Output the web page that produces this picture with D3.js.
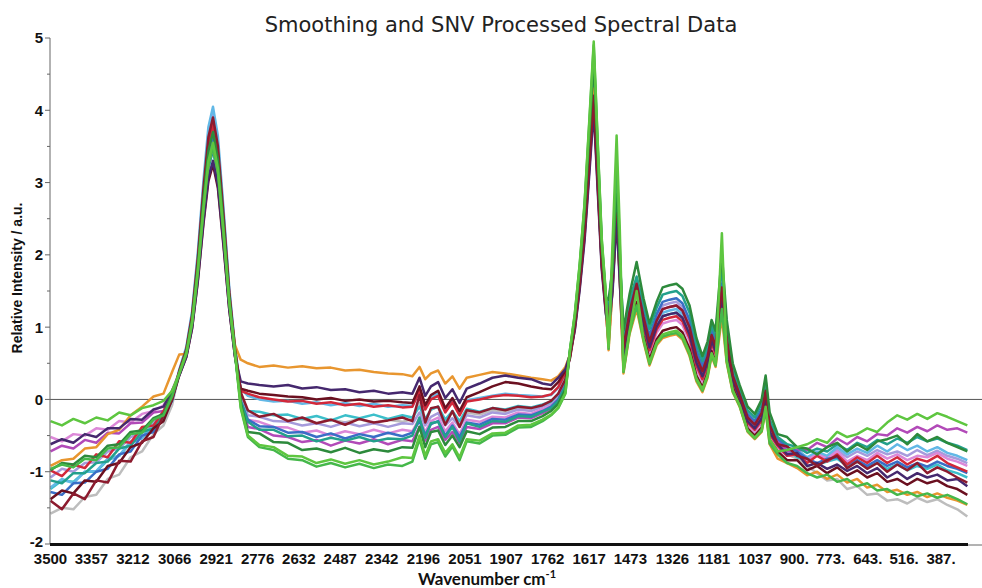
<!DOCTYPE html>
<html>
<head>
<meta charset="utf-8">
<script src="https://cdn.jsdelivr.net/npm/d3@7"></script>
<style>
  html, body { margin: 0; padding: 0; background: #fff; }
  #chart { width: 982px; height: 588px; }
</style>
</head>
<body>
<div id="chart"></div>
<script>
// =========================================================
//  Smoothing + SNV processed spectra (16 samples)
// =========================================================

// shared x grid, cm-1 (descending)
const wavenumbers = [
  3500, 3460, 3420, 3380, 3340, 3300, 3260, 3220, 3180, 3140, 3105, 3075,
  3050, 3025, 3005, 2985, 2965, 2948, 2932, 2915, 2895, 2875, 2855, 2835,
  2810, 2770, 2720, 2670, 2620, 2570, 2520, 2470, 2420, 2370, 2320, 2270, 2235, 2210,
  2190, 2170, 2145, 2120, 2095, 2070, 2045, 2000, 1955, 1910, 1865, 1820, 1780, 1750,
  1725, 1700, 1684, 1667, 1650, 1633, 1615, 1601, 1587, 1573, 1559, 1549, 1535, 1521,
  1510, 1497, 1476, 1451, 1427, 1406, 1381, 1360, 1336, 1312, 1291, 1266, 1242, 1221,
  1203, 1189, 1175, 1153, 1136, 1115, 1091, 1063, 1038,
  1014, 1000, 986, 958, 925, 890, 855, 820, 785, 750, 715, 680, 645, 610, 575, 540,
  505, 470, 435, 400, 365, 330, 295
];

const tickValues = [3500, 3357, 3212, 3066, 2921, 2776, 2632, 2487, 2342, 2196, 2051, 1907,
  1762, 1617, 1473, 1326, 1181, 1037, 900, 773, 643, 516, 387];
const tickLabels = ['3500', '3357', '3212', '3066', '2921', '2776', '2632', '2487', '2342', '2196',
  '2051', '1907', '1762', '1617', '1473', '1326', '1181', '1037', '900.', '773.', '643.', '516.', '387.'];
const yTicks = [-2, -1, 0, 1, 2, 3, 4, 5];

// spectra (relative intensity, a.u.)
const gray = [
  -1.58, -1.50, -1.52, -1.35, -1.32, -1.10, -1.04, -0.80, -0.72, -0.48, -0.36, -0.08,
  0.37, 0.67, 1.11, 1.85, 2.78, 3.44, 3.70, 3.33, 2.41, 1.41, 0.67, 0.02,
  -0.16, -0.24, -0.21, -0.29, -0.27, -0.33, -0.28, -0.32, -0.27, -0.33, -0.28, -0.31, -0.27, -0.05,
  -0.31, -0.14, -0.10, -0.34, -0.17, -0.36, -0.18, -0.21, -0.15, -0.17, -0.12, -0.13, -0.09, -0.04,
  0.06, 0.26, 0.62, 1.06, 1.67, 2.42, 3.52, 4.40, 3.17, 1.98, 1.32, 0.98, 1.68, 2.80,
  1.82, 0.62, 1.14, 1.45, 1.06, 0.72, 1.01, 1.15, 1.18, 1.20, 1.13, 0.90, 0.51, 0.32,
  0.52, 0.82, 0.67, 1.50, 0.76, 0.27, 0.03, -0.30, -0.40,
  -0.26, 0.06, -0.45, -0.62, -0.76, -0.82, -0.92, -1.02, -1.12, -1.10, -1.24, -1.20, -1.32, -1.30, -1.40, -1.38,
  -1.44, -1.36, -1.42, -1.38, -1.46, -1.52, -1.62
];
const lavender = [
  -1.08, -0.96, -1.00, -0.88, -0.87, -0.72, -0.68, -0.52, -0.47, -0.30, -0.24, 0.02,
  0.40, 0.71, 1.19, 1.98, 2.96, 3.67, 3.95, 3.56, 2.57, 1.50, 0.71, 0.05,
  -0.22, -0.24, -0.30, -0.31, -0.36, -0.33, -0.38, -0.32, -0.37, -0.33, -0.38, -0.33, -0.34, -0.18,
  -0.36, -0.24, -0.19, -0.36, -0.26, -0.38, -0.22, -0.25, -0.18, -0.20, -0.14, -0.16, -0.10, -0.06,
  0.04, 0.24, 0.65, 1.12, 1.77, 2.56, 3.72, 4.65, 3.35, 2.09, 1.40, 1.13, 1.80, 3.00,
  1.95, 0.74, 1.25, 1.60, 1.18, 0.84, 1.13, 1.30, 1.33, 1.35, 1.28, 1.05, 0.63, 0.42,
  0.62, 0.92, 0.77, 1.70, 0.88, 0.36, 0.09, -0.23, -0.33,
  -0.16, 0.16, -0.36, -0.56, -0.70, -0.68, -0.82, -0.74, -0.80, -0.70, -0.80, -0.72, -0.78, -0.70, -0.76, -0.72,
  -0.78, -0.70, -0.77, -0.71, -0.78, -0.82, -0.88
];
const cyan = [
  -1.24, -1.12, -1.14, -1.00, -1.00, -0.84, -0.78, -0.60, -0.52, -0.36, -0.26, 0.00,
  0.35, 0.62, 1.04, 1.73, 2.59, 3.21, 3.45, 3.11, 2.24, 1.31, 0.62, 0.00,
  -0.16, -0.17, -0.22, -0.21, -0.27, -0.23, -0.29, -0.22, -0.26, -0.21, -0.27, -0.22, -0.25, -0.10,
  -0.27, -0.14, -0.10, -0.28, -0.16, -0.30, -0.13, -0.17, -0.12, -0.14, -0.09, -0.11, -0.07, -0.03,
  0.07, 0.27, 0.63, 1.08, 1.71, 2.48, 3.60, 4.50, 3.24, 2.03, 1.35, 0.98, 1.68, 2.80,
  1.82, 0.62, 1.14, 1.50, 1.06, 0.72, 1.01, 1.15, 1.18, 1.20, 1.13, 0.90, 0.51, 0.32,
  0.52, 0.82, 0.67, 1.50, 0.76, 0.27, 0.03, -0.30, -0.40,
  -0.26, 0.06, -0.41, -0.67, -0.70, -0.80, -0.84, -0.90, -0.86, -0.82, -0.92, -0.86, -0.94, -0.88, -0.96, -0.90,
  -0.98, -0.92, -0.96, -0.90, -0.98, -1.02, -1.08
];
const lightBlue = [
  -1.22, -1.10, -1.16, -1.00, -0.99, -0.82, -0.78, -0.58, -0.54, -0.34, -0.27, 0.00,
  0.41, 0.73, 1.22, 2.03, 3.04, 3.77, 4.05, 3.65, 2.63, 1.54, 0.73, 0.15,
  0.05, 0.00, -0.03, -0.02, -0.06, -0.04, -0.08, -0.05, -0.09, -0.06, -0.10, -0.08, -0.09, 0.12,
  -0.12, 0.02, 0.08, -0.16, -0.02, -0.20, -0.01, 0.02, 0.05, 0.08, 0.06, 0.05, 0.04, 0.06,
  0.16, 0.36, 0.62, 1.06, 1.67, 2.42, 3.52, 4.40, 3.17, 1.98, 1.32, 1.03, 1.92, 3.20,
  2.08, 0.66, 1.18, 1.50, 1.10, 0.76, 1.05, 1.20, 1.23, 1.25, 1.18, 0.95, 0.55, 0.35,
  0.55, 0.85, 0.70, 1.50, 0.80, 0.30, 0.05, -0.28, -0.38,
  -0.22, 0.09, -0.42, -0.60, -0.74, -0.70, -0.80, -0.72, -0.78, -0.66, -0.76, -0.68, -0.74, -0.64, -0.72, -0.62,
  -0.70, -0.64, -0.72, -0.66, -0.74, -0.78, -0.84
];
const pink = [
  -0.52, -0.58, -0.48, -0.50, -0.40, -0.42, -0.30, -0.32, -0.20, -0.16, -0.08, 0.12,
  0.38, 0.68, 1.13, 1.88, 2.81, 3.49, 3.75, 3.38, 2.44, 1.43, 0.68, 0.00,
  -0.28, -0.31, -0.38, -0.39, -0.46, -0.43, -0.50, -0.44, -0.48, -0.42, -0.47, -0.42, -0.44, -0.26,
  -0.45, -0.30, -0.25, -0.44, -0.32, -0.48, -0.28, -0.31, -0.24, -0.25, -0.18, -0.20, -0.13, -0.09,
  0.01, 0.21, 0.63, 1.08, 1.71, 2.48, 3.60, 4.50, 3.24, 2.03, 1.35, 0.88, 1.68, 2.80,
  1.82, 0.53, 1.06, 1.55, 0.97, 0.64, 0.92, 1.05, 1.08, 1.10, 1.03, 0.80, 0.42, 0.25,
  0.45, 0.75, 0.60, 1.45, 0.67, 0.22, -0.01, -0.35, -0.45,
  -0.32, -0.01, -0.50, -0.68, -0.78, -0.76, -0.84, -0.76, -0.82, -0.72, -0.86, -0.78, -0.84, -0.74, -0.82, -0.76,
  -0.84, -0.78, -0.80, -0.74, -0.82, -0.86, -0.92
];
const magenta = [
  -0.72, -0.64, -0.68, -0.56, -0.60, -0.46, -0.47, -0.33, -0.32, -0.18, -0.16, 0.08,
  0.36, 0.65, 1.08, 1.80, 2.70, 3.35, 3.60, 3.24, 2.34, 1.37, 0.65, -0.04,
  -0.38, -0.41, -0.50, -0.52, -0.59, -0.56, -0.64, -0.57, -0.61, -0.55, -0.62, -0.56, -0.58, -0.38,
  -0.57, -0.42, -0.38, -0.56, -0.45, -0.60, -0.38, -0.41, -0.33, -0.33, -0.25, -0.26, -0.19, -0.13,
  -0.03, 0.17, 0.63, 1.08, 1.71, 2.48, 3.60, 4.50, 3.24, 2.03, 1.35, 1.08, 1.68, 2.80,
  1.82, 0.70, 1.21, 1.60, 1.14, 0.80, 1.09, 1.25, 1.28, 1.30, 1.23, 1.00, 0.59, 0.39,
  0.59, 0.89, 0.74, 1.60, 0.84, 0.33, 0.07, -0.25, -0.35,
  -0.19, 0.12, -0.39, -0.58, -0.72, -0.70, -0.70, -0.60, -0.66, -0.54, -0.62, -0.52, -0.58, -0.48, -0.50, -0.40,
  -0.46, -0.38, -0.44, -0.36, -0.42, -0.40, -0.46
];
const blue = [
  -1.28, -1.32, -1.16, -1.15, -1.00, -0.96, -0.76, -0.72, -0.50, -0.45, -0.22, -0.02,
  0.36, 0.65, 1.08, 1.80, 2.70, 3.35, 3.60, 3.24, 2.34, 1.37, 0.65, -0.02,
  -0.28, -0.37, -0.38, -0.46, -0.45, -0.52, -0.47, -0.54, -0.48, -0.52, -0.46, -0.51, -0.46, -0.30,
  -0.49, -0.34, -0.30, -0.50, -0.36, -0.52, -0.32, -0.35, -0.27, -0.28, -0.21, -0.22, -0.16, -0.10,
  0.00, 0.20, 0.64, 1.10, 1.75, 2.53, 3.68, 4.60, 3.31, 2.07, 1.38, 1.18, 1.74, 2.90,
  1.89, 0.79, 1.29, 1.60, 1.23, 0.88, 1.18, 1.35, 1.38, 1.40, 1.33, 1.10, 0.68, 0.46,
  0.66, 0.96, 0.81, 1.60, 0.93, 0.38, 0.11, -0.20, -0.30,
  -0.13, 0.19, -0.34, -0.54, -0.66, -0.72, -0.82, -0.88, -0.82, -0.80, -0.90, -0.84, -0.92, -0.84, -0.92, -0.86,
  -0.94, -0.88, -0.93, -0.86, -0.92, -0.96, -1.02
];
const teal = [
  -1.12, -1.16, -1.02, -1.02, -0.88, -0.86, -0.68, -0.64, -0.45, -0.40, -0.20, 0.03,
  0.35, 0.62, 1.04, 1.73, 2.59, 3.21, 3.45, 3.11, 2.24, 1.31, 0.62, -0.02,
  -0.31, -0.42, -0.42, -0.51, -0.50, -0.58, -0.53, -0.57, -0.52, -0.58, -0.54, -0.55, -0.50, -0.25,
  -0.53, -0.33, -0.31, -0.52, -0.38, -0.58, -0.33, -0.38, -0.30, -0.31, -0.23, -0.24, -0.17, -0.12,
  -0.02, 0.18, 0.67, 1.15, 1.82, 2.64, 3.84, 4.80, 3.46, 2.16, 1.44, 1.28, 1.86, 3.10,
  2.02, 0.88, 1.37, 1.70, 1.32, 0.97, 1.27, 1.45, 1.48, 1.50, 1.43, 1.20, 0.77, 0.53,
  0.73, 1.03, 0.88, 1.85, 1.02, 0.44, 0.16, -0.15, -0.25,
  -0.06, 0.26, -0.28, -0.52, -0.62, -0.66, -0.74, -0.68, -0.72, -0.62, -0.70, -0.60, -0.66, -0.56, -0.62, -0.54,
  -0.60, -0.52, -0.58, -0.54, -0.60, -0.64, -0.70
];
const red = [
  -0.98, -1.06, -0.90, -0.95, -0.76, -0.80, -0.58, -0.60, -0.38, -0.36, -0.16, 0.05,
  0.38, 0.68, 1.14, 1.90, 2.85, 3.53, 3.80, 3.42, 2.47, 1.44, 0.68, 0.12,
  0.08, 0.03, 0.00, -0.03, -0.02, -0.06, -0.04, -0.08, -0.06, -0.10, -0.08, -0.11, -0.10, 0.12,
  -0.14, 0.00, 0.05, -0.18, -0.04, -0.22, -0.03, 0.00, 0.04, 0.06, 0.05, 0.03, 0.04, 0.07,
  0.17, 0.37, 0.60, 1.03, 1.63, 2.37, 3.44, 4.30, 3.10, 1.94, 1.29, 0.93, 1.62, 2.70,
  1.76, 0.58, 1.10, 1.50, 1.02, 0.68, 0.97, 1.10, 1.13, 1.15, 1.08, 0.85, 0.47, 0.28,
  0.48, 0.78, 0.63, 1.40, 0.72, 0.24, 0.01, -0.32, -0.42,
  -0.29, 0.02, -0.48, -0.64, -0.78, -0.76, -0.88, -0.78, -0.86, -0.76, -0.90, -0.80, -0.88, -0.78, -0.88, -0.80,
  -0.90, -0.82, -0.86, -0.78, -0.88, -0.94, -1.00
];
const wine = [
  -1.38, -1.26, -1.30, -1.12, -1.14, -0.92, -0.88, -0.66, -0.60, -0.40, -0.30, 0.00,
  0.33, 0.59, 0.98, 1.63, 2.44, 3.02, 3.25, 2.93, 2.11, 1.24, 0.59, 0.15,
  0.12, 0.08, 0.06, 0.04, 0.03, 0.00, 0.02, -0.02, 0.00, -0.03, -0.02, -0.04, -0.05, 0.18,
  -0.08, 0.06, 0.12, -0.12, 0.02, -0.16, 0.03, 0.10, 0.18, 0.24, 0.22, 0.18, 0.15, 0.14,
  0.24, 0.40, 0.57, 0.98, 1.56, 2.26, 3.28, 4.10, 2.95, 1.85, 1.23, 0.78, 1.56, 2.60,
  1.69, 0.44, 0.98, 1.35, 0.88, 0.55, 0.83, 0.95, 0.98, 1.00, 0.93, 0.70, 0.33, 0.17,
  0.37, 0.67, 0.52, 1.30, 0.58, 0.16, -0.06, -0.40, -0.50,
  -0.39, -0.08, -0.56, -0.72, -0.84, -0.84, -0.98, -0.92, -1.02, -0.94, -1.05, -0.98, -1.08, -1.02, -1.14, -1.10,
  -1.18, -1.10, -1.16, -1.12, -1.20, -1.24, -1.32
];
const orange = [
  -0.92, -0.84, -0.82, -0.68, -0.66, -0.48, -0.42, -0.22, -0.10, 0.04, 0.08, 0.38,
  0.62, 0.63, 1.05, 1.75, 2.63, 3.26, 3.50, 3.15, 2.28, 1.33, 0.75, 0.55,
  0.50, 0.45, 0.47, 0.44, 0.46, 0.43, 0.44, 0.40, 0.41, 0.38, 0.36, 0.35, 0.32, 0.45,
  0.28, 0.36, 0.40, 0.22, 0.32, 0.15, 0.30, 0.34, 0.38, 0.36, 0.33, 0.30, 0.28, 0.26,
  0.32, 0.45, 0.62, 1.03, 1.63, 2.37, 3.44, 4.30, 3.10, 1.94, 1.29, 0.68, 1.56, 2.60,
  1.69, 0.36, 0.90, 1.25, 0.80, 0.47, 0.75, 0.85, 0.88, 0.90, 0.83, 0.60, 0.25, 0.10,
  0.30, 0.60, 0.45, 1.15, 0.50, 0.10, -0.10, -0.45, -0.55,
  -0.45, -0.15, -0.62, -0.82, -0.88, -0.95, -1.05, -1.00, -1.10, -1.04, -1.15, -1.10, -1.22, -1.18, -1.28, -1.25,
  -1.32, -1.28, -1.35, -1.30, -1.36, -1.40, -1.46
];
const darkPurple = [
  -0.62, -0.55, -0.60, -0.48, -0.52, -0.40, -0.40, -0.27, -0.28, -0.14, -0.10, 0.12,
  0.33, 0.59, 0.99, 1.65, 2.48, 3.07, 3.30, 2.97, 2.15, 1.25, 0.59, 0.25,
  0.22, 0.20, 0.18, 0.20, 0.15, 0.17, 0.13, 0.14, 0.10, 0.12, 0.08, 0.10, 0.08, 0.30,
  0.05, 0.18, 0.24, 0.02, 0.14, -0.05, 0.15, 0.22, 0.30, 0.33, 0.30, 0.28, 0.22, 0.20,
  0.30, 0.42, 0.62, 0.96, 1.52, 2.20, 3.20, 4.00, 2.88, 1.80, 1.20, 0.98, 1.50, 2.50,
  1.63, 0.62, 1.14, 1.50, 1.06, 0.72, 1.01, 1.15, 1.18, 1.20, 1.13, 0.90, 0.51, 0.32,
  0.52, 0.82, 0.67, 1.40, 0.76, 0.27, 0.03, -0.30, -0.40,
  -0.26, 0.06, -0.45, -0.62, -0.76, -0.74, -0.92, -0.88, -0.96, -0.90, -0.99, -0.92, -1.02, -0.95, -1.08, -1.00,
  -1.10, -1.02, -1.08, -1.04, -1.12, -1.10, -1.20
];
const maroon = [
  -1.40, -1.52, -1.30, -1.38, -1.12, -1.15, -0.85, -0.86, -0.58, -0.52, -0.22, 0.00,
  0.39, 0.70, 1.17, 1.95, 2.93, 3.63, 3.90, 3.51, 2.54, 1.48, 0.70, 0.10,
  -0.15, -0.24, -0.20, -0.30, -0.25, -0.33, -0.28, -0.35, -0.27, -0.32, -0.29, -0.25, -0.30, 0.06,
  -0.32, -0.12, -0.10, -0.35, -0.16, -0.38, -0.15, -0.18, -0.12, -0.15, -0.10, -0.12, -0.08, -0.02,
  0.08, 0.28, 0.59, 1.01, 1.60, 2.31, 3.36, 4.20, 3.02, 1.89, 1.26, 1.08, 1.74, 2.90,
  1.89, 0.70, 1.21, 1.60, 1.14, 0.80, 1.09, 1.25, 1.28, 1.30, 1.23, 1.00, 0.59, 0.39,
  0.59, 0.89, 0.74, 1.55, 0.84, 0.33, 0.07, -0.25, -0.35,
  -0.19, 0.12, -0.35, -0.62, -0.65, -0.78, -0.82, -0.92, -0.84, -0.78, -0.95, -0.86, -0.96, -0.88, -1.00, -0.90,
  -0.98, -0.88, -1.02, -0.94, -1.00, -1.08, -1.15
];
const darkGreen = [
  -0.98, -0.88, -0.90, -0.78, -0.80, -0.64, -0.62, -0.45, -0.43, -0.26, -0.20, 0.08,
  0.37, 0.67, 1.11, 1.85, 2.78, 3.44, 3.70, 3.33, 2.41, 1.41, 0.67, -0.05,
  -0.45, -0.47, -0.59, -0.60, -0.70, -0.68, -0.73, -0.67, -0.74, -0.69, -0.72, -0.66, -0.67, -0.38,
  -0.66, -0.45, -0.43, -0.63, -0.50, -0.66, -0.44, -0.48, -0.39, -0.38, -0.30, -0.30, -0.23, -0.16,
  -0.06, 0.14, 0.66, 1.13, 1.79, 2.59, 3.76, 4.70, 3.38, 2.12, 1.41, 1.38, 1.80, 3.00,
  1.95, 0.96, 1.45, 1.90, 1.40, 1.05, 1.35, 1.55, 1.58, 1.60, 1.53, 1.30, 0.85, 0.60,
  0.80, 1.10, 0.95, 2.00, 1.10, 0.50, 0.20, -0.10, -0.20,
  0.00, 0.33, -0.18, -0.48, -0.52, -0.66, -0.68, -0.76, -0.66, -0.60, -0.72, -0.62, -0.70, -0.58, -0.55, -0.50,
  -0.62, -0.48, -0.58, -0.52, -0.60, -0.66, -0.72
];
const green2 = [
  -0.96, -0.90, -0.94, -0.82, -0.84, -0.68, -0.66, -0.48, -0.46, -0.28, -0.22, 0.04,
  0.35, 0.63, 1.05, 1.75, 2.63, 3.26, 3.50, 3.15, 2.28, 1.33, 0.63, -0.12,
  -0.52, -0.66, -0.70, -0.82, -0.84, -0.93, -0.88, -0.94, -0.89, -0.95, -0.90, -0.92, -0.86, -0.55,
  -0.82, -0.62, -0.59, -0.79, -0.65, -0.84, -0.58, -0.61, -0.50, -0.49, -0.39, -0.38, -0.30, -0.22,
  -0.12, 0.08, 0.69, 1.18, 1.86, 2.70, 3.92, 4.90, 3.53, 2.20, 1.47, 0.70, 1.98, 3.30,
  2.15, 0.38, 0.92, 1.30, 0.82, 0.49, 0.77, 0.87, 0.90, 0.92, 0.85, 0.62, 0.27, 0.12,
  0.32, 0.62, 0.47, 1.25, 0.52, 0.11, -0.09, -0.44, -0.54,
  -0.44, -0.14, -0.61, -0.76, -0.88, -0.92, -1.02, -1.08, -1.04, -1.14, -1.10, -1.20, -1.16, -1.26, -1.24, -1.32,
  -1.28, -1.34, -1.30, -1.36, -1.32, -1.38, -1.45
];
const green = [
  -0.30, -0.36, -0.27, -0.33, -0.25, -0.29, -0.18, -0.22, -0.12, -0.08, -0.02, 0.12,
  0.36, 0.64, 1.07, 1.78, 2.66, 3.30, 3.55, 3.20, 2.31, 1.35, 0.64, -0.10,
  -0.50, -0.63, -0.66, -0.78, -0.79, -0.88, -0.83, -0.89, -0.84, -0.90, -0.86, -0.80, -0.81, -0.50,
  -0.78, -0.58, -0.55, -0.74, -0.62, -0.80, -0.55, -0.57, -0.47, -0.46, -0.36, -0.35, -0.28, -0.21,
  -0.11, 0.09, 0.69, 1.19, 1.88, 2.72, 3.96, 4.95, 3.56, 2.23, 1.49, 0.73, 2.19, 3.65,
  2.37, 0.40, 0.94, 1.50, 0.84, 0.51, 0.79, 0.90, 0.93, 0.95, 0.88, 0.65, 0.29, 0.14,
  0.34, 0.64, 0.49, 2.30, 0.54, 0.13, -0.08, -0.43, -0.53,
  -0.42, -0.10, -0.55, -0.72, -0.70, -0.66, -0.62, -0.55, -0.60, -0.45, -0.52, -0.48, -0.40, -0.45, -0.32, -0.22,
  -0.28, -0.20, -0.27, -0.19, -0.24, -0.30, -0.36
];

// draw order: greens last so they sit on top, as in the original
const spectra = [
  { values: gray,       color: '#bdbdbd' },
  { values: lavender,   color: '#a69bdc' },
  { values: cyan,       color: '#3cbfca' },
  { values: lightBlue,  color: '#62b8e6' },
  { values: pink,       color: '#dc88d8' },
  { values: magenta,    color: '#b24ab8' },
  { values: blue,       color: '#3a6ec6' },
  { values: teal,       color: '#23a08c' },
  { values: red,        color: '#d2283a' },
  { values: wine,       color: '#6b1020' },
  { values: orange,     color: '#e8962f' },
  { values: darkPurple, color: '#45286e' },
  { values: maroon,     color: '#8c1b2e' },
  { values: darkGreen,  color: '#2d8a3c' },
  { values: green2,     color: '#45b84a' },
  { values: green,      color: '#5ec640' }
];

const W = 982, H = 588;
const svg = d3.select('#chart').append('svg')
  .attr('width', W).attr('height', H)
  .attr('viewBox', `0 0 ${W} ${H}`);

// wavenumber axis runs right-to-left
const x = d3.scaleLinear().domain([3500, 387]).range([50.5, 941]);
const y = d3.scaleLinear().domain([-2, 5]).range([544, 38]);

// zero line
svg.append('line')
  .attr('x1', 50).attr('x2', W)
  .attr('y1', y(0)).attr('y2', y(0))
  .attr('stroke', '#555').attr('stroke-width', 1);

// spectra
const line = d3.line()
  .x((d, i) => x(wavenumbers[i]))
  .y(d => y(d));

svg.append('g')
  .attr('class', 'spectra')
  .selectAll('path')
  .data(spectra)
  .join('path')
  .attr('d', d => line(d.values))
  .attr('fill', 'none')
  .attr('stroke', d => d.color)
  .attr('stroke-width', 2.5)
  .attr('stroke-linejoin', 'round');

// y axis: thin line, integer ticks + half-step minor ticks
const yAxis = svg.append('g').attr('transform', 'translate(50,0)');
yAxis.append('line')
  .attr('y1', y(5)).attr('y2', y(-2))
  .attr('stroke', '#666').attr('stroke-width', 1);
yAxis.selectAll('line.minor')
  .data(d3.range(-1.5, 5, 1))
  .join('line')
  .attr('class', 'minor')
  .attr('x1', -3).attr('x2', 0)
  .attr('y1', d => y(d)).attr('y2', d => y(d))
  .attr('stroke', '#666');
yAxis.selectAll('line.major')
  .data(yTicks)
  .join('line')
  .attr('class', 'major')
  .attr('x1', -5).attr('x2', 0)
  .attr('y1', d => y(d)).attr('y2', d => y(d))
  .attr('stroke', '#666');
yAxis.selectAll('text')
  .data(yTicks)
  .join('text')
  .attr('x', -7)
  .attr('y', d => y(d) - (d === -2 ? 2 : 0))
  .attr('dy', '0.36em')
  .attr('text-anchor', 'end')
  .attr('font-family', 'Liberation Sans, Arial, sans-serif')
  .attr('font-size', 15)
  .attr('font-weight', 700)
  .attr('fill', '#111')
  .text(d => d);

// x axis: heavy baseline, labels only
svg.append('line')
  .attr('x1', 50).attr('x2', W)
  .attr('y1', 545).attr('y2', 545)
  .attr('stroke', '#666').attr('stroke-width', 1);
svg.append('line')
  .attr('x1', 50).attr('x2', 968)
  .attr('y1', 544.5).attr('y2', 544.5)
  .attr('stroke', '#111').attr('stroke-width', 3);

svg.append('g')
  .selectAll('text')
  .data(tickValues)
  .join('text')
  .attr('x', d => x(d))
  .attr('y', 564)
  .attr('text-anchor', 'middle')
  .attr('font-family', 'Liberation Sans, Arial, sans-serif')
  .attr('font-size', 15)
  .attr('font-weight', 700)
  .attr('fill', '#111')
  .text((d, i) => tickLabels[i]);

// title
svg.append('text')
  .attr('x', 501).attr('y', 32)
  .attr('text-anchor', 'middle')
  .attr('font-family', 'DejaVu Sans, sans-serif')
  .attr('font-size', 21)
  .attr('fill', '#222')
  .text('Smoothing and SNV Processed Spectral Data');

// axis titles
svg.append('text')
  .attr('transform', 'translate(22,278) rotate(-90)')
  .attr('text-anchor', 'middle')
  .attr('font-family', 'Liberation Sans, Arial, sans-serif')
  .attr('font-size', 14)
  .attr('font-weight', 700)
  .attr('fill', '#111')
  .text('Relative Intensity / a.u.');

const xTitle = svg.append('text')
  .attr('x', 487).attr('y', 585)
  .attr('text-anchor', 'middle')
  .attr('font-family', 'Lato, Open Sans, sans-serif')
  .attr('font-size', 17)
  .attr('font-weight', 700)
  .attr('fill', '#111');
xTitle.append('tspan').text('Wavenumber cm');
xTitle.append('tspan')
  .attr('dy', -7)
  .attr('font-size', 11)
  .text('-1');
</script>
</body>
</html>
